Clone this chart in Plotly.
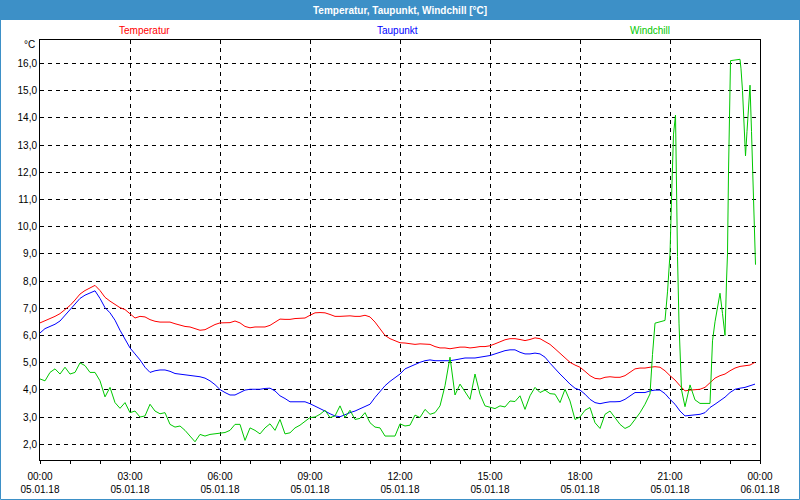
import plotly.graph_objects as go

# ---------------- data ----------------
minutes_10 = list(range(0, 1440, 10))  # 00:00 .. 23:50

temperatur = [
    6.46, 6.53, 6.62, 6.70, 6.80, 6.95, 7.10, 7.30, 7.52, 7.65, 7.75, 7.84, 7.65, 7.40, 7.26, 7.14, 7.02, 6.95,
    6.78, 6.64, 6.70, 6.68, 6.58, 6.52, 6.49, 6.49, 6.49, 6.43, 6.37, 6.33, 6.31, 6.25, 6.19, 6.21, 6.31, 6.40, 6.46,
    6.47, 6.47, 6.53, 6.46, 6.33, 6.28, 6.31, 6.31, 6.31, 6.37, 6.49, 6.60, 6.59, 6.59, 6.62, 6.62, 6.64, 6.74,
    6.83, 6.84, 6.83, 6.77, 6.70, 6.70, 6.72, 6.72, 6.70, 6.70, 6.74, 6.68, 6.49, 6.25, 6.00, 5.88, 5.79, 5.73,
    5.72, 5.69, 5.67, 5.69, 5.69, 5.67, 5.59, 5.54, 5.54, 5.51, 5.54, 5.57, 5.57, 5.54, 5.56, 5.59, 5.59, 5.62,
    5.69, 5.78, 5.84, 5.88, 5.88, 5.85, 5.81, 5.85, 5.91, 5.88, 5.79, 5.67, 5.51, 5.35, 5.17, 5.01, 4.91, 4.83,
    4.68, 4.52, 4.42, 4.40, 4.46, 4.48, 4.46, 4.46, 4.52, 4.64, 4.77, 4.80, 4.80, 4.83, 4.85, 4.83, 4.70, 4.52,
    4.36, 4.15, 3.96, 3.99, 4.00, 4.02, 4.09, 4.27, 4.43, 4.52, 4.58, 4.70, 4.80, 4.86, 4.89, 4.91, 5.01,
]

taupunkt = [
    6.09, 6.25, 6.33, 6.41, 6.53, 6.74, 6.95, 7.15, 7.36, 7.48, 7.57, 7.64, 7.36, 7.02, 6.83, 6.56, 6.19, 5.84,
    5.54, 5.32, 5.10, 4.83, 4.64, 4.70, 4.73, 4.73, 4.68, 4.60, 4.58, 4.56, 4.52, 4.51, 4.48, 4.43, 4.33, 4.19, 4.01,
    3.90, 3.81, 3.81, 3.90, 3.99, 4.02, 4.02, 4.02, 4.05, 4.06, 3.96, 3.78, 3.68, 3.56, 3.56, 3.56, 3.56, 3.49,
    3.41, 3.32, 3.22, 3.12, 3.04, 3.01, 3.10, 3.16, 3.22, 3.31, 3.37, 3.47, 3.72, 3.93, 4.15, 4.31, 4.43, 4.58,
    4.77, 4.86, 4.95, 5.01, 5.07, 5.10, 5.07, 5.07, 5.07, 5.07, 5.10, 5.14, 5.17, 5.17, 5.17, 5.20, 5.22, 5.26,
    5.32, 5.38, 5.44, 5.47, 5.47, 5.38, 5.32, 5.32, 5.35, 5.32, 5.20, 4.98, 4.77, 4.58, 4.40, 4.21, 4.06, 3.99,
    3.84, 3.65, 3.53, 3.49, 3.53, 3.56, 3.56, 3.57, 3.65, 3.78, 3.90, 3.90, 3.90, 3.96, 3.99, 3.99, 3.86, 3.65,
    3.47, 3.22, 3.04, 3.06, 3.07, 3.10, 3.16, 3.35, 3.47, 3.59, 3.73, 3.90, 4.02, 4.06, 4.09, 4.15, 4.21,
]

windchill_minutes = list(range(0, 1090, 10)) + [
    1090, 1100, 1110, 1120, 1130, 1140, 1150, 1160, 1170, 1180,
    1190, 1200, 1210, 1220, 1225, 1230, 1240, 1250, 1255, 1260,
    1263, 1267, 1271, 1273, 1275, 1278, 1283, 1290, 1300, 1310,
    1320, 1340, 1342, 1345, 1350, 1360, 1365, 1370, 1373, 1375,
    1377, 1380, 1381, 1400, 1402, 1405, 1408, 1411, 1414, 1418,
    1420, 1423, 1425, 1428, 1431,
]

windchill = [
    4.40, 4.33, 4.64, 4.77, 4.58, 4.83, 4.58, 4.64, 4.99, 4.89, 4.64, 4.64, 4.33, 3.74, 4.09, 3.53, 3.32, 3.53,
    3.16, 3.22, 3.00, 3.04, 3.47, 3.22, 3.12, 3.16, 2.73, 2.63, 2.67, 2.51, 2.30, 2.09, 2.36, 2.30, 2.36, 2.38, 2.42,
    2.43, 2.51, 2.73, 2.73, 2.14, 2.60, 2.51, 2.38, 2.60, 2.75, 2.51, 2.91, 2.38, 2.42, 2.60, 2.70, 2.83, 2.98,
    3.00, 3.10, 3.25, 2.98, 3.04, 3.41, 2.98, 3.25, 2.91, 2.95, 3.16, 2.79, 2.63, 2.60, 2.30, 2.30, 2.30, 2.75,
    2.67, 2.70, 3.07, 2.98, 3.28, 3.10, 3.16, 3.41, 4.15, 5.20, 3.81, 4.21, 3.94, 3.65, 4.58, 3.84, 3.41, 3.35,
    3.31, 3.41, 3.37, 3.59, 3.57, 3.78, 3.28, 3.78, 4.09, 3.90, 3.99, 3.86, 3.84, 3.53, 4.02, 3.59, 2.91, 3.00,
    3.25, 3.35, 2.79, 2.58, 3.10, 3.22, 2.98, 2.73, 2.58, 2.67,
    2.91, 3.16, 3.47, 3.85, 5.3, 6.45, 6.5, 6.55, 7.6, 9.0,
    11.0, 13.4, 14.1, 11.2, 8.9, 6.45, 4.0, 3.38, 4.18, 3.63,
    3.50, 3.50, 4.6, 5.8, 6.5, 7.55, 6.8, 6.0, 8.0, 9.0,
    12.0, 15.0, 16.1, 16.15, 15.8, 15.0, 13.7, 12.6, 13.5, 14.9,
    15.2, 13.5, 12.0, 10.5, 8.6,
]

x_tick_minutes = [0, 180, 360, 540, 720, 900, 1080, 1260, 1440]
x_tick_times = ["00:00", "03:00", "06:00", "09:00", "12:00", "15:00", "18:00", "21:00", "00:00"]
x_tick_dates = ["05.01.18"] * 8 + ["06.01.18"]
y_tick_values = [2, 3, 4, 5, 6, 7, 8, 9, 10, 11, 12, 13, 14, 15, 16]
y_tick_labels = ["2,0", "3,0", "4,0", "5,0", "6,0", "7,0", "8,0", "9,0", "10,0",
                 "11,0", "12,0", "13,0", "14,0", "15,0", "16,0"]

series_names = ["Temperatur", "Taupunkt", "Windchill"]

# ---------------- style ----------------
W, H = 800, 500
L, R, T, B = 40, 40, 40, 40
PW, PH = W - L - R, H - T - B
FONT = "Liberation Sans"
RED, BLUE, GREEN = "#ff0000", "#0000ff", "#00c800"
BAR = "#3d90c7"


def xp(px):
    return (px - L) / PW


def yp(py):
    return (H - B - py) / PH


fig = go.Figure()
fig.add_trace(go.Scatter(x=minutes_10, y=temperatur, mode="lines", name=series_names[0],
                         line=dict(color=RED, width=1), hoverinfo="skip"))
fig.add_trace(go.Scatter(x=minutes_10, y=taupunkt, mode="lines", name=series_names[1],
                         line=dict(color=BLUE, width=1), hoverinfo="skip"))
fig.add_trace(go.Scatter(x=windchill_minutes, y=windchill, mode="lines", name=series_names[2],
                         line=dict(color=GREEN, width=1), hoverinfo="skip"))

fig.update_layout(
    width=W, height=H,
    margin=dict(l=L, r=R, t=T, b=B, pad=0, autoexpand=False),
    paper_bgcolor="#ffffff",
    plot_bgcolor="#ffffff",
    showlegend=False,
    font=dict(family=FONT, size=10, color="#000000"),
)

fig.update_xaxes(
    automargin=False,
    range=[0, 1440],
    tickmode="array",
    tickvals=x_tick_minutes,
    ticktext=[f"{t}<br>{d}" for t, d in zip(x_tick_times, x_tick_dates)],
    ticks="outside", ticklen=3, tickwidth=1, tickcolor="#000000",
    ticklabelstandoff=4,
    showline=True, linecolor="#000000", linewidth=1, mirror=True,
    showgrid=True, gridcolor="#000000", gridwidth=1, griddash="4px,4px",
    zeroline=False,
    tickfont=dict(family=FONT, size=10, color="#000000"),
    minor=dict(tickmode="linear", tick0=0, dtick=60, ticks="outside", ticklen=3,
               tickcolor="#000000", tickwidth=1, showgrid=False),
)
fig.update_yaxes(
    automargin=False,
    range=[1.42, 16.86],
    tickmode="array",
    tickvals=y_tick_values,
    ticktext=y_tick_labels,
    ticks="",
    showline=True, linecolor="#000000", linewidth=1, mirror=True,
    showgrid=True, gridcolor="#000000", gridwidth=1, griddash="4px,4px",
    zeroline=False,
    tickfont=dict(family=FONT, size=10, color="#000000"),
)

# title bar and frame
fig.add_shape(type="rect", xref="paper", yref="paper",
              x0=xp(0), x1=xp(W), y0=yp(20), y1=yp(0),
              fillcolor=BAR, line=dict(width=0), layer="below")
fig.add_shape(type="rect", xref="paper", yref="paper",
              x0=xp(0.5), x1=xp(W - 0.5), y0=yp(H - 0.5), y1=yp(0.5),
              fillcolor="rgba(0,0,0,0)", line=dict(color=BAR, width=1))

fig.add_annotation(text="<b>Temperatur, Taupunkt, Windchill [°C]</b>", xref="paper", yref="paper",
                   x=xp(400), y=yp(10), showarrow=False, xanchor="center", yanchor="middle",
                   font=dict(family=FONT, size=10, color="#ffffff"))

for name, col, cx in zip(series_names, [RED, BLUE, GREEN], [144, 397, 650]):
    fig.add_annotation(text=name, xref="paper", yref="paper", x=xp(cx), y=yp(30),
                       showarrow=False, xanchor="center", yanchor="middle",
                       font=dict(family=FONT, size=10, color=col))

fig.add_annotation(text="°C", xref="paper", yref="paper", x=xp(37), y=yp(45),
                   showarrow=False, xanchor="right", yanchor="middle",
                   font=dict(family=FONT, size=10, color="#000000"))

fig.write_html("out.html", config={"displayModeBar": False})
